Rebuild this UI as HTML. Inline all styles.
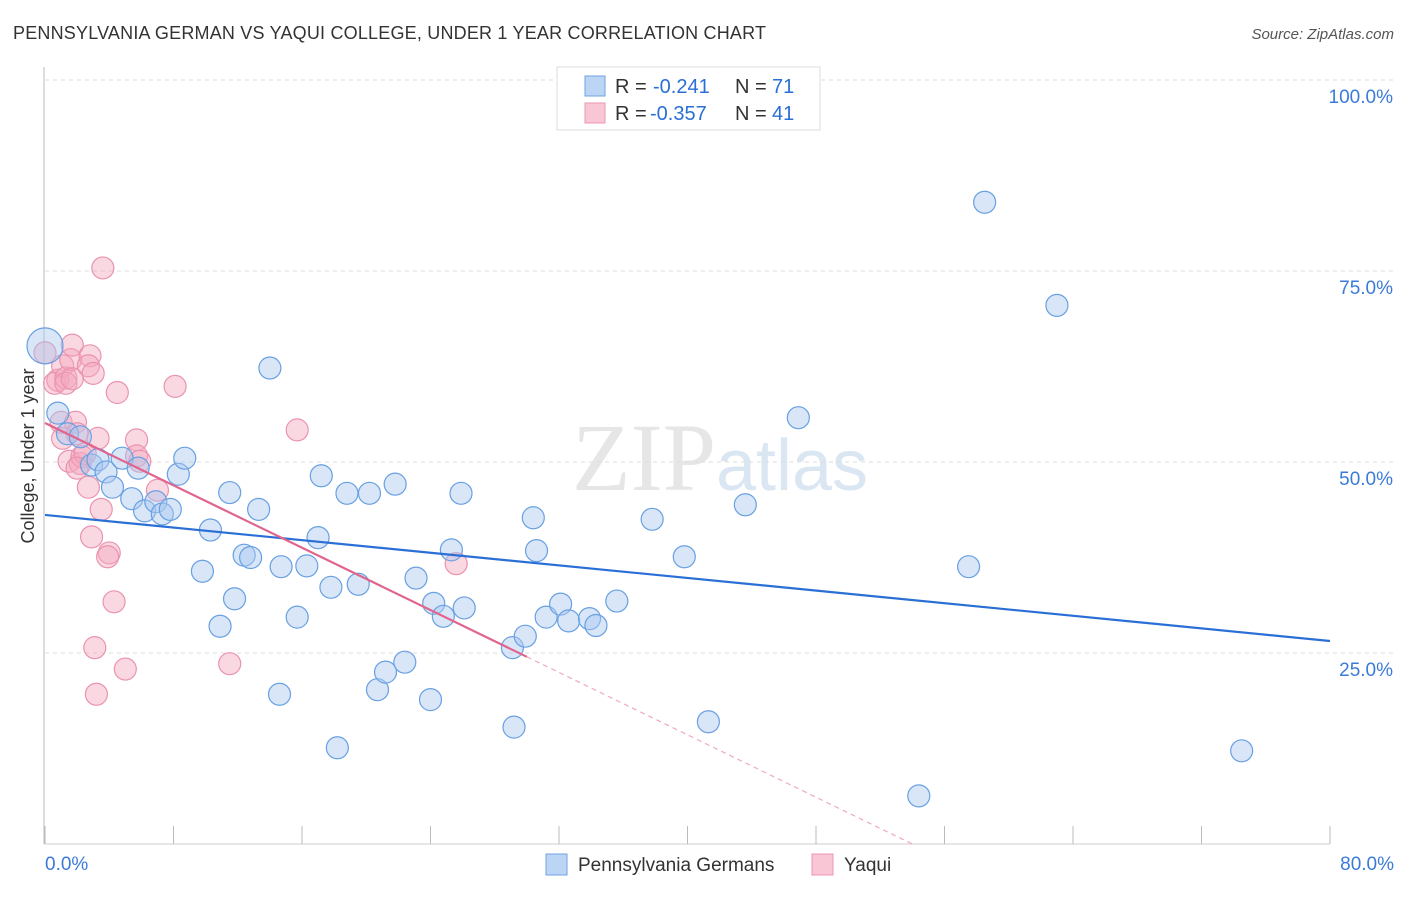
<!DOCTYPE html>
<html><head><meta charset="utf-8"><style>
body{margin:0;background:#fff;font-family:"Liberation Sans",sans-serif}
</style></head><body>
<svg id="c" width="1406" height="892" xmlns="http://www.w3.org/2000/svg" font-family="Liberation Sans, sans-serif">
<text x="13" y="39" font-size="18" fill="#333" textLength="753">PENNSYLVANIA GERMAN VS YAQUI COLLEGE, UNDER 1 YEAR CORRELATION CHART</text>
<text x="1394" y="39" font-size="15" fill="#555" text-anchor="end" font-style="italic">Source: ZipAtlas.com</text>
<text x="720" y="490" font-size="96" text-anchor="middle" fill="#e6e6e6" font-family="Liberation Serif, serif">ZIP<tspan fill="#dbe6f3" font-family="Liberation Sans, sans-serif" font-size="72">atlas</tspan></text>
<text transform="translate(34,456) rotate(-90)" font-size="18" fill="#333" text-anchor="middle">College, Under 1 year</text>
<g id="grid"></g><g id="marks"></g>
<g>
<rect x="557" y="67" width="263" height="63" fill="#fff" stroke="#ddd"/>
<rect x="585" y="76" width="20" height="20" fill="#bcd5f5" stroke="#6fa3e3"/>
<rect x="585" y="103" width="20" height="20" fill="#f8c6d5" stroke="#ec95b0"/>
<text x="615" y="93" font-size="20" fill="#333">R =</text><text x="653" y="93" font-size="20" fill="#2a6fd6">-0.241</text>
<text x="735" y="93" font-size="20" fill="#333">N =</text><text x="772" y="93" font-size="20" fill="#2a6fd6">71</text>
<text x="615" y="120" font-size="20" fill="#333">R =</text><text x="650" y="120" font-size="20" fill="#2a6fd6">-0.357</text>
<text x="735" y="120" font-size="20" fill="#333">N =</text><text x="772" y="120" font-size="20" fill="#2a6fd6">41</text>
</g>
<g>
<rect x="546" y="854" width="21" height="21" fill="#bcd5f5" stroke="#6fa3e3"/>
<text x="578" y="871" font-size="19" fill="#333">Pennsylvania Germans</text>
<rect x="812" y="854" width="21" height="21" fill="#f8c6d5" stroke="#ec95b0"/>
<text x="844" y="871" font-size="19" fill="#333">Yaqui</text>
</g>
</svg>
<script>
const xTicks=[0,10,20,30,40,50,60,70,80];
const yTicks=[25,50,75,100];
const blueX=[0,0.8,1.4,2.2,2.9,3.3,3.8,4.2,4.8,5.4,5.8,6.2,6.9,7.3,7.8,8.3,8.7,10.3,9.8,10.9,11.5,11.8,12.4,12.8,13.3,14,14.7,14.6,15.7,16.3,17,17.2,17.8,18.2,18.8,19.5,20.2,20.7,21.2,21.8,22.4,23.1,24,24.2,24.8,25.3,25.9,26.1,29.1,29.2,29.9,30.4,30.6,31.2,32.1,32.6,33.9,34.3,35.6,37.8,39.8,41.3,43.6,46.9,54.4,57.5,58.5,63,74.5];
const blueY=[65.2,56.4,53.7,53.3,49.6,50.3,48.7,46.7,50.5,45.2,49.2,43.6,44.8,43.2,43.8,48.4,50.5,41.1,35.7,28.5,46,32.1,37.8,37.5,43.8,62.3,36.3,19.6,29.7,36.4,40.1,48.2,33.6,12.6,45.9,34,45.9,20.2,22.5,47.1,23.8,34.8,18.9,31.5,29.8,38.5,45.9,30.9,25.7,15.3,27.2,42.7,38.4,29.7,31.4,29.2,29.5,28.6,31.8,42.5,37.6,16,44.4,55.8,6.3,36.3,84,70.5,12.2];
const pinkX=[0,0.8,0.6,1.1,1.3,1.6,1.7,1.3,1.7,2.8,2.7,3,1,1.9,2,1.5,2.2,2.3,2.5,3.3,2.7,3.5,2.9,4,3.9,4.3,3.1,3.2,5,3.6,4.5,5.7,5.7,5.9,7,8.1,11.5,15.7,25.6,1.1,2];
const pinkY=[64.3,60.7,60.3,62.6,61,63.4,65.3,60.3,60.9,63.9,62.6,61.6,55.2,55.2,53.7,50.1,49.8,50.7,51.1,53.1,46.7,43.8,40.2,38.1,37.6,31.7,25.7,19.6,22.9,75.4,59.1,52.9,50.8,50.1,46.3,59.9,23.6,54.2,36.7,53.1,49.2];
const NS='http://www.w3.org/2000/svg';
const X=v=>45+v/80*1285, Y=v=>844-v/100*764;
const svg=document.getElementById('c'),grid=document.getElementById('grid'),marks=document.getElementById('marks');
function mk(tag,a,p){const e=document.createElementNS(NS,tag);for(const k in a)e.setAttribute(k,a[k]);(p||svg).appendChild(e);return e;}
let ax=mk('line',{x1:44,y1:67,x2:44,y2:844,stroke:'#bbb'},grid);


let bx=mk('line',{x1:44,y1:844,x2:1330,y2:844,stroke:'#ccc'},grid);


yTicks.forEach(t=>{const g=mk('line',{x1:45,x2:1394,y1:Y(t),y2:Y(t),stroke:'#ddd','stroke-dasharray':'4,4'},grid);


const l=mk('text',{x:1393,y:Y(t)+23,'font-size':19,fill:'#3b7bd8','text-anchor':'end'},grid);l.textContent=t.toFixed(1)+'%';

});
for(let i=0;i<=10;i++){const x=45+i*128.5;const t=mk('line',{x1:x,x2:x,y1:826,y2:844,stroke:'#bbb'},grid);

}
[[0,'0.0%','start',45],[80,'80.0%','end',1394]].forEach(d=>{const l=mk('text',{x:d[3],y:870,'font-size':19,fill:'#3b7bd8','text-anchor':d[2]},grid);l.textContent=d[1];

});
function dots(xs,ys,fill,stroke,name){xs.forEach((v,i)=>{const c=mk('circle',{cx:X(v),cy:Y(ys[i]),r:i===0&&name==='blue-point'?18:11,fill:fill,'fill-opacity':0.45,stroke:stroke,'stroke-width':1.2},marks);

});}
dots(pinkX,pinkY,'#f4a9bf','#ea93b0','pink-point');
dots(blueX,blueY,'#a9c8f0','#68a0e2','blue-point');
let bl=mk('line',{x1:X(0),y1:Y(43.07),x2:X(80),y2:Y(26.57),stroke:'#2a6fd6','stroke-width':2.2},marks);


let pl=mk('line',{x1:X(0),y1:Y(55.1),x2:X(30),y2:Y(24.5),stroke:'#e0648e','stroke-width':2.2},marks);


let pd=mk('line',{x1:X(30),y1:Y(24.5),x2:X(54),y2:Y(0),stroke:'#eeaac0','stroke-width':1.2,'stroke-dasharray':'5,4'},marks);


</script>
</body></html>
